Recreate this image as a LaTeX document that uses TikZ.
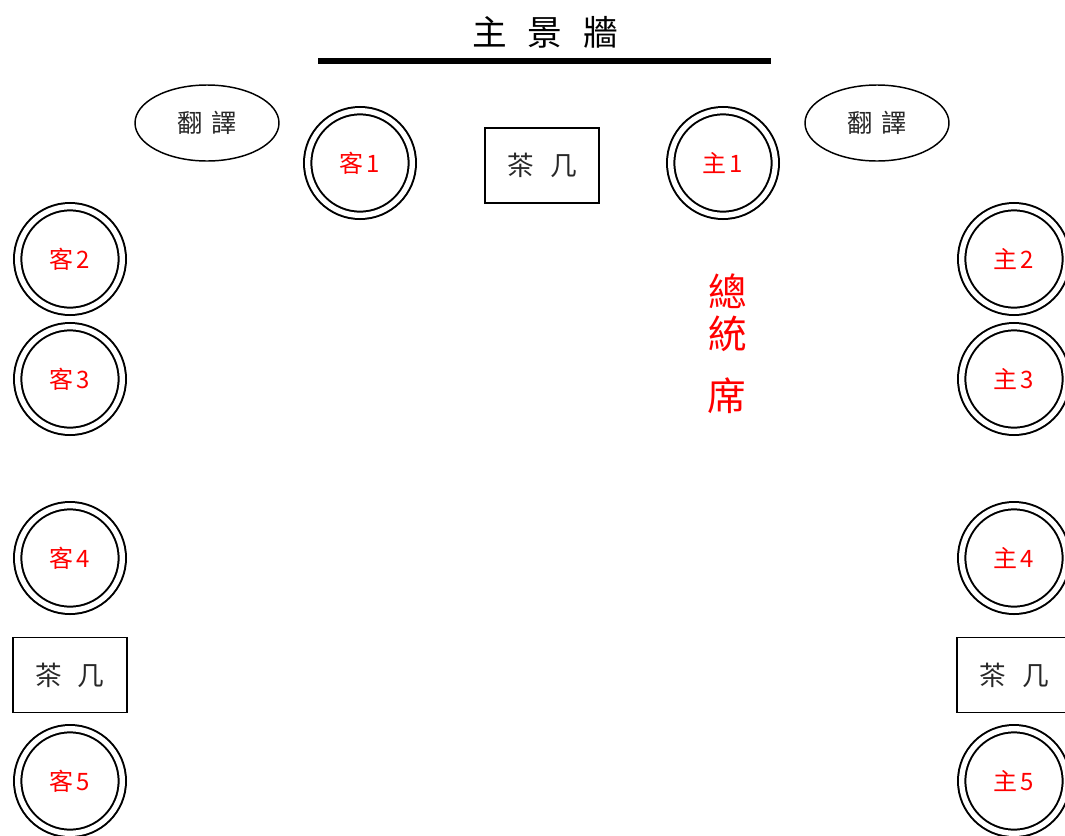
\documentclass[tikz,border=0pt]{standalone}
\usepackage{fontspec}
\newfontfamily\cjk{Noto Sans CJK TC}
\usetikzlibrary{shapes.geometric}
\definecolor{seatred}{RGB}{255,0,0}
\definecolor{txtgray}{RGB}{40,40,40}
\begin{document}
\begin{tikzpicture}[x=0.75pt,y=-0.75pt,
  seat/.style={circle,draw=black,line width=1.5pt,double=white,double distance=4pt,
    minimum size=78.5pt,inner sep=0pt,text=seatred,font=\cjk\fontsize{18pt}{20pt}\selectfont},
  interp/.style={ellipse,draw=black,line width=1.1pt,minimum width=108pt,minimum height=57pt,
    inner sep=0pt,text=txtgray,font=\cjk\fontsize{19pt}{21pt}\selectfont},
  teatable/.style={rectangle,draw=black,line width=1.1pt,minimum width=85.5pt,minimum height=56pt,
    inner sep=0pt,text=txtgray,font=\cjk\fontsize{20pt}{22pt}\selectfont},
  wall/.style={line width=4.5pt},
  walltitle/.style={font=\cjk\fontsize{26pt}{28pt}\selectfont,text=black,inner sep=0pt},
  president/.style={font=\cjk\fontsize{29pt}{31pt}\selectfont,text=seatred,inner sep=0pt}]
\useasboundingbox (0,0) rectangle (1065,836);
% wall
\node[walltitle] (title) at (545,32) {主\hspace{0.6em}景\hspace{0.6em}牆};
\coordinate (wl) at (318,61);
\coordinate (wr) at (771,61);
\draw[wall] (wl) -- (wr);
% interpreters
\node[interp] (tl) at (207,123) {翻\hspace{0.35em}譯};
\node[interp] (tr) at (877,123) {翻\hspace{0.35em}譯};
% tea tables
\node[teatable] (tea1) at (542,165.5) {茶\hspace{0.6em}几};
\node[teatable] (tea2) at (70,675) {茶\hspace{0.6em}几};
\node[teatable] (tea3) at (1014,675) {茶\hspace{0.6em}几};
% guest seats
\node[seat] (g1) at (360,163) {客\hspace{0.12em}1};
\node[seat] (g2) at (70,259) {客\hspace{0.12em}2};
\node[seat] (g3) at (70,379) {客\hspace{0.12em}3};
\node[seat] (g4) at (70,558) {客\hspace{0.12em}4};
\node[seat] (g5) at (70,781) {客\hspace{0.12em}5};
% host seats
\node[seat] (h1) at (723,163) {主\hspace{0.12em}1};
\node[seat] (h2) at (1014,259) {主\hspace{0.12em}2};
\node[seat] (h3) at (1014,379) {主\hspace{0.12em}3};
\node[seat] (h4) at (1014,558) {主\hspace{0.12em}4};
\node[seat] (h5) at (1014,781) {主\hspace{0.12em}5};
% president
\node[president] (p1) at (728,291) {總};
\node[president] (p2) at (728,334) {統};
\node[president] (p3) at (727,396) {席};
\end{tikzpicture}
\end{document}
